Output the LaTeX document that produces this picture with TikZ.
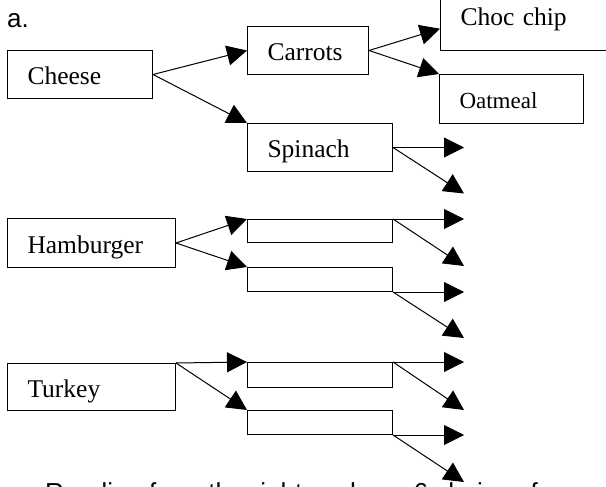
\documentclass[tikz,border=0pt]{standalone}
\usepackage{fontspec}
\setmainfont{Liberation Serif}
\newfontfamily\labelsans{Liberation Sans}
\usetikzlibrary{arrows.meta,calc}

\tikzset{
  food/.style={draw, line width=1pt, anchor=north west, inner xsep=20pt, inner ysep=0pt,
    align=left, text height=20pt, text depth=0pt, font=\fontsize{25.5}{30}\selectfont},
  blank/.style={draw, line width=1pt, anchor=north west, inner sep=0pt, minimum width=145pt},
  pick/.style={line width=1pt, -{Triangle[length=20pt,width=20pt]}},
  sanslbl/.style={anchor=base west, inner sep=0pt, font=\labelsans\fontsize{26}{30}\selectfont}
}

\begin{document}
\begin{tikzpicture}[x=1pt, y=-1pt]
\useasboundingbox (0,0) rectangle (606,487);

% Label of the part
\node[sanslbl] (part) at (7,28) {a.};

% First tree
\node[food, text width=105pt, minimum height=48pt] (cheese) at (7,50) {Cheese};
\node[food, text width=81pt, minimum height=48pt] (carrots) at (247,26) {Carrots};
\node[food, text width=105pt, minimum height=48pt] (spinach) at (247,123) {Spinach};
\node[food, text width=140pt, minimum height=70pt] (choc) at (440,-20) {Choc chip};
\node[food, text width=104pt, minimum height=49pt, font=\fontsize{23}{28}\selectfont] (oatmeal) at (439,74) {Oatmeal};

\draw[pick] (cheese.east) -- (carrots.west);
\draw[pick] (cheese.east) -- (spinach.north west);
\draw[pick] (carrots.east) -- ($(choc.north west)!0.686!(choc.south west)$);
\draw[pick] (carrots.east) -- (oatmeal.north west);

\coordinate (sp-a) at ($(spinach.east)+(71,0)$);
\coordinate (sp-b) at ($(spinach.east)+(71,46)$);
\draw[pick] (spinach.east) -- (sp-a);
\draw[pick] (spinach.east) -- (sp-b);

% Second tree
\node[food, text width=128pt, minimum height=49pt] (hamburger) at (7,218) {Hamburger};
\node[blank, minimum height=23pt] (ham-1) at (247,219) {};
\node[blank, minimum height=24pt] (ham-2) at (247,267) {};

\draw[pick] (hamburger.east) -- (ham-1.north west);
\draw[pick] (hamburger.east) -- (ham-2.north west);

\coordinate (h1-a) at ($(ham-1.north east)+(71,0)$);
\coordinate (h1-b) at ($(ham-1.north east)+(71,47)$);
\coordinate (h2-a) at ($(ham-2.south east)+(71,0)$);
\coordinate (h2-b) at ($(ham-2.south east)+(71,46)$);
\draw[pick] (ham-1.north east) -- (h1-a);
\draw[pick] (ham-1.north east) -- (h1-b);
\draw[pick] (ham-2.south east) -- (h2-a);
\draw[pick] (ham-2.south east) -- (h2-b);

% Third tree
\node[food, text width=128pt, minimum height=47pt] (turkey) at (7,363) {Turkey};
\node[blank, minimum height=25pt] (tur-1) at (247,362) {};
\node[blank, minimum height=24pt] (tur-2) at (247,410) {};

\draw[pick] (turkey.north east) -- (tur-1.north west);
\draw[pick] (turkey.north east) -- (tur-2.north west);

\coordinate (t1-a) at ($(tur-1.north east)+(71,0)$);
\coordinate (t1-b) at ($(tur-1.north east)+(71,48)$);
\coordinate (t2-a) at ($(tur-2.south east)+(71,0)$);
\coordinate (t2-b) at ($(tur-2.south east)+(71,47)$);
\draw[pick] (tur-1.north east) -- (t1-a);
\draw[pick] (tur-1.north east) -- (t1-b);
\draw[pick] (tur-2.south east) -- (t2-a);
\draw[pick] (tur-2.south east) -- (t2-b);

% Text below, cut by the page edge
\node[sanslbl] (note) at (45,501) {Reading from the right we have 6 choices for};
\end{tikzpicture}
\end{document}
